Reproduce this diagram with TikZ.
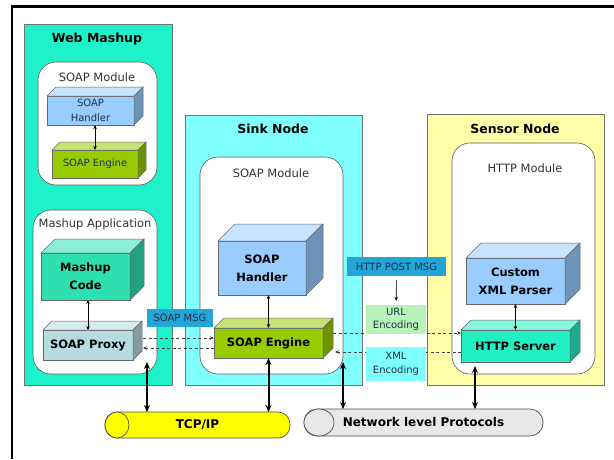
\documentclass[tikz,border=0pt]{standalone}
\usepackage{fontspec}
\setmainfont{DejaVu Sans}
\usetikzlibrary{arrows.meta}
\definecolor{mashupTeal}{HTML}{1EF2C8}
\definecolor{sinkCyan}{HTML}{80FFFF}
\definecolor{sensorYellow}{HTML}{FFFFAA}
\definecolor{handlerBlue}{HTML}{99CCFF}
\definecolor{engineGreen}{HTML}{99CC00}
\definecolor{codeTeal}{HTML}{2EE0B0}
\definecolor{proxyGrey}{HTML}{B6DCE0}
\definecolor{serverTeal}{HTML}{22F0C4}
\definecolor{msgBlue}{HTML}{22A6D8}
\definecolor{msgInk}{HTML}{1C2E4A}
\definecolor{urlGreen}{HTML}{B8F2B8}
\definecolor{xmlCyan}{HTML}{80FFFF}
\definecolor{tcpYellow}{HTML}{FFFF00}
\definecolor{netGrey}{HTML}{E8E8E8}

% top and right face of a box node: name, colour, depth
\newcommand{\cubefaces}[3]{%
  \filldraw[draw=black!60,line width=0.5pt,fill=#2!55!white]
    (#1.north west) -- ++(#3,-#3) -- ([shift={(#3,-#3)}]#1.north east) -- (#1.north east) -- cycle;
  \filldraw[draw=black!60,line width=0.5pt,fill=#2!72!black]
    (#1.north east) -- ([shift={(#3,-#3)}]#1.north east) -- ([shift={(#3,-#3)}]#1.south east) -- (#1.south east) -- cycle;
}

\begin{document}
\begin{tikzpicture}[
  x=1pt,y=-1pt,
  panel/.style={draw=black!55,line width=0.6pt},
  module/.style={draw=black!65,fill=white,line width=0.6pt,rounded corners=18pt},
  paneltitle/.style={font=\fontsize{12.5}{14}\selectfont\bfseries},
  modlabel/.style={font=\fontsize{11.5}{13}\selectfont,text=black!80},
  cube/.style={draw=black!60,line width=0.5pt,outer sep=0pt,inner sep=1pt,align=center},
  smallcube/.style={cube,font=\fontsize{10}{15}\selectfont,text=msgInk},
  bigcube/.style={cube,font=\fontsize{11.5}{18}\selectfont\bfseries},
  msgbox/.style={fill=msgBlue,text=msgInk,font=\fontsize{10}{12}\selectfont,inner sep=0pt},
  encbox/.style={text=msgInk,font=\fontsize{10}{13.5}\selectfont,align=center,inner sep=0pt},
  pipe/.style={draw=black!70,line width=0.7pt,font=\fontsize{12}{14}\selectfont\bfseries,
               minimum height=26pt,outer sep=0pt},
  link/.style={<->,>={Stealth[length=4pt,width=3.5pt]},line width=0.6pt},
  msg/.style={->,>={Stealth[length=4pt,width=3.5pt]},dash pattern=on 3pt off 2.5pt,
              line width=0.6pt,black!75},
  bus/.style={<->,>={Stealth[length=7pt,width=6pt]},line width=2pt}
]
\useasboundingbox (0,0) rectangle (614,459);
\draw[line width=2.5pt] (12,459) -- (12,6.5) -- (614,6.5);

% the three nodes
\draw[panel,fill=mashupTeal]   (24,24)   rectangle (172,385);
\draw[panel,fill=sinkCyan]     (185,115) rectangle (362,385);
\draw[panel,fill=sensorYellow] (427,114) rectangle (604,385);
\node[paneltitle] (webTitle)    at (97,39)   {Web Mashup};
\node[paneltitle] (sinkTitle)   at (273,129) {Sink Node};
\node[paneltitle] (sensorTitle) at (515,129) {Sensor Node};

% modules
\draw[module] (38,62)   rectangle (157,185);
\draw[module] (33,210)  rectangle (157,374);
\draw[module] (200,157) rectangle (343,374);
\draw[module] (452,143) rectangle (595,374);
\node[modlabel] (wmModLabel)   at (97,77)   {SOAP Module};
\node[modlabel] (appLabel)     at (95,224)  {Mashup Application};
\node[modlabel] (snModLabel)   at (271,173) {SOAP Module};
\node[modlabel] (httpModLabel) at (525,168) {HTTP Module};

% web mashup
\node[smallcube,fill=handlerBlue,minimum width=87pt,minimum height=29pt] (wmHandler) at (90.5,110.5) {SOAP\\Handler};
\cubefaces{wmHandler}{handlerBlue}{9}
\node[smallcube,fill=engineGreen,minimum width=86pt,minimum height=28pt] (wmEngine) at (95,164) {SOAP Engine};
\cubefaces{wmEngine}{engineGreen}{8}
\node[bigcube,fill=codeTeal,minimum width=89pt,minimum height=47pt] (mashupCode) at (85.5,276.5) {Mashup\\Code};
\cubefaces{mashupCode}{codeTeal}{14}
\node[bigcube,fill=proxyGrey,minimum width=90pt,minimum height=30pt] (soapProxy) at (88,345) {SOAP Proxy};
\cubefaces{soapProxy}{proxyGrey}{9}

% sink node
\node[bigcube,fill=handlerBlue,minimum width=88pt,minimum height=54pt] (snHandler) at (262,268) {SOAP\\Handler};
\cubefaces{snHandler}{handlerBlue}{17}
\node[bigcube,fill=engineGreen,minimum width=109pt,minimum height=30pt] (snEngine) at (268.5,343) {SOAP Engine};
\cubefaces{snEngine}{engineGreen}{10}

% sensor node
\node[bigcube,fill=handlerBlue,minimum width=99pt,minimum height=46pt] (xmlParser) at (515.5,281) {Custom\\XML Parser};
\cubefaces{xmlParser}{handlerBlue}{15}
\node[bigcube,fill=serverTeal,minimum width=109pt,minimum height=32pt] (httpServer) at (515.5,346) {HTTP Server};
\cubefaces{httpServer}{serverTeal}{10}

\draw[link] (wmHandler.south -| wmEngine.north) -- (wmEngine.north);
\draw[link] (mashupCode.south -| soapProxy.north) -- (soapProxy.north);
\draw[link] (snHandler.south -| snEngine.north) -- (snEngine.north);
\draw[link] (xmlParser.south) -- (httpServer.north);

% messages
\draw[msg] ([shift={(10,-7)}]soapProxy.east) -- ([shift={(0,-5)}]snEngine.west);
\draw[msg] ([shift={(0,5)}]snEngine.west) -- ([shift={(10,3)}]soapProxy.east);
\draw[msg] ([shift={(10,-10)}]snEngine.east) -- ([shift={(0,-13)}]httpServer.west);
\draw[msg] ([shift={(0,6)}]httpServer.west) -- ([shift={(12,9)}]snEngine.east);

\node[msgbox,minimum width=66pt,minimum height=18pt] (soapMsg) at (180,318) {SOAP MSG};
\node[msgbox,minimum width=99pt,minimum height=19pt] (httpPost) at (396.5,266.5) {HTTP POST MSG};
\node[encbox,fill=urlGreen,minimum width=60pt,minimum height=29pt] (urlEnc) at (396,319.5) {URL\\Encoding};
\node[encbox,fill=xmlCyan,minimum width=60pt,minimum height=34pt] (xmlEnc) at (396,364) {XML\\Encoding};
\draw[->,>={Stealth[length=4pt,width=3.5pt]},line width=0.6pt,shorten <=4pt,shorten >=4pt] (httpPost) -- (urlEnc);

% protocol pipes
\node[pipe,fill=tcpYellow,minimum width=185pt,rounded corners=12pt] (tcpip) at (197.5,425) {TCP/IP};
\draw[draw=black!70,line width=0.7pt,fill=tcpYellow] ([xshift=12pt]tcpip.west) ellipse [x radius=12pt,y radius=13pt];
\node[pipe,fill=netGrey,minimum width=239pt,minimum height=27pt,rounded corners=13pt] (netProto) at (423.5,422.5) {Network level Protocols};
\draw[draw=black!70,line width=0.7pt,fill=netGrey] ([xshift=15pt]netProto.west) ellipse [x radius=15pt,y radius=13.5pt];

\coordinate (proxyBus)  at (147,362);
\coordinate (sinkBus)   at (343,362);
\coordinate (serverBus) at (475,366);
\draw[bus] (proxyBus) -- (proxyBus |- tcpip.north);
\draw[bus] (snEngine.south) -- (snEngine.south |- tcpip.north);
\draw[bus] (sinkBus) -- (sinkBus |- netProto.north);
\draw[bus] (serverBus) -- (serverBus |- netProto.north);
\end{tikzpicture}
\end{document}
